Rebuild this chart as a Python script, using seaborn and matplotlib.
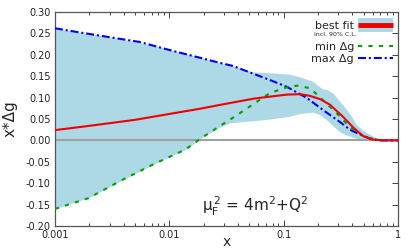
import matplotlib
matplotlib.use("Agg")
import matplotlib.pyplot as plt
import seaborn as sns
from matplotlib.lines import Line2D
from matplotlib.legend_handler import HandlerTuple
from matplotlib.ticker import FixedLocator, FuncFormatter, MultipleLocator

# best fit
fit_x = [0.001, 0.002, 0.005, 0.0112, 0.0186, 0.0278, 0.056, 0.107, 0.14, 0.17,
         0.21, 0.255, 0.331, 0.41, 0.496, 0.6, 0.75, 1.0]
fit_y = [0.024, 0.034, 0.048, 0.064, 0.074, 0.083, 0.098, 0.107, 0.108, 0.104,
         0.096, 0.083, 0.055, 0.029, 0.010, 0.002, 0.0, 0.0]

# min delta g
min_x = [0.001, 0.00196, 0.00383, 0.0075, 0.0137, 0.0197, 0.039, 0.076, 0.107,
         0.131, 0.17, 0.221, 0.29, 0.38, 0.5, 0.65, 1.0]
min_y = [-0.160, -0.135, -0.093, -0.054, -0.022, 0.008, 0.059, 0.111, 0.124,
         0.128, 0.122, 0.094, 0.064, 0.031, 0.010, 0.001, 0.0]

# max delta g
max_x = [0.001, 0.0015, 0.0055, 0.0101, 0.0186, 0.0278, 0.036, 0.054, 0.076,
         0.107, 0.139, 0.16, 0.221, 0.311, 0.38, 0.44, 0.57, 0.7, 1.0]
max_y = [0.262, 0.254, 0.230, 0.211, 0.193, 0.181, 0.174, 0.156, 0.141,
         0.125, 0.108, 0.099, 0.071, 0.043, 0.025, 0.017, 0.004, 0.0, 0.0]

# 90% C.L. band
band_x = [0.001, 0.002, 0.004, 0.0075, 0.0137, 0.0197, 0.028, 0.034, 0.045, 0.054,
          0.065, 0.076, 0.11, 0.14, 0.18, 0.2, 0.22, 0.24, 0.27, 0.31, 0.35, 0.38,
          0.43, 0.49, 0.54, 0.66, 0.8, 1.0]
band_lo = [-0.160, -0.133, -0.091, -0.054, -0.022, 0.008, 0.032, 0.041, 0.044, 0.046,
           0.048, 0.050, 0.056, 0.063, 0.066, 0.062, 0.055, 0.047, 0.034, 0.020, 0.013,
           0.010, 0.005, 0.002, 0.0, 0.0, 0.0, 0.0]
band_hi = [0.262, 0.249, 0.236, 0.221, 0.203, 0.192, 0.181, 0.176, 0.166, 0.160,
           0.159, 0.158, 0.155, 0.148, 0.138, 0.128, 0.120, 0.119, 0.110, 0.091, 0.074,
           0.062, 0.038, 0.024, 0.017, 0.005, 0.0, 0.0]

x_ticks = [0.001, 0.01, 0.1, 1]

sns.set_style("ticks")
plt.rcParams["font.family"] = ["DejaVu Sans"]
plt.rcParams["axes.unicode_minus"] = False

fig = plt.figure(figsize=(4.15, 2.49), dpi=100)
ax = fig.add_axes([0.1325, 0.0924, 0.8265, 0.8594])
ax.set_xscale("log")

ax.fill_between(band_x, band_lo, band_hi, color="#add8e6", lw=0, zorder=1)
ax.axhline(0, color="#a0a0a0", lw=1.5, zorder=2)

sns.lineplot(x=max_x, y=max_y, ax=ax, color="#0000ee", linewidth=1.5,
             linestyle=(0, (3.8, 1.4, 1.0, 1.4)), legend=False, zorder=3)
sns.lineplot(x=min_x, y=min_y, ax=ax, color="#00a000", linewidth=1.5,
             linestyle=(0, (2, 3)), legend=False, zorder=3)
sns.lineplot(x=fit_x, y=fit_y, ax=ax, color="#ee0000", linewidth=1.5,
             legend=False, zorder=4)

ax.set_xlim(0.001, 1)
ax.set_ylim(-0.2, 0.3)
ax.xaxis.set_major_locator(FixedLocator(x_ticks))
ax.xaxis.set_major_formatter(FuncFormatter(lambda v, p: f"{v:g}"))
ax.yaxis.set_major_locator(MultipleLocator(0.05))
ax.yaxis.set_major_formatter(FuncFormatter(lambda v, p: f"{v:.2f}"))
ax.tick_params(which="both", direction="in", top=True, right=True,
               labelsize=7, colors="#222222", width=0.6)
ax.tick_params(which="major", length=4, pad=3)
ax.tick_params(which="minor", length=2)
for s in ax.spines.values():
    s.set_color("#555555")
    s.set_linewidth(0.9)

ax.set_xlabel("x", fontsize=10)
ax.xaxis.set_label_coords(0.5, -0.04)
ax.set_ylabel("x*Δg", fontsize=11, labelpad=6)

ax.text(0.583, 0.093, r"$\mathregular{\mu_F^{\,2}}$ = $\mathregular{4m^2{+}Q^2}$",
        transform=ax.transAxes, ha="center", va="center", fontsize=11)

# legends
fit_handle = (Line2D([], [], color="#add8e6", lw=10, solid_capstyle="butt"),
              Line2D([], [], color="#ee0000", lw=3.5, solid_capstyle="butt"))
leg1 = ax.legend([fit_handle], ["best fit"], handler_map={tuple: HandlerTuple(ndivide=1, pad=0)},
                 loc="center right", bbox_to_anchor=(0.985, 0.935), frameon=False,
                 fontsize=8, markerfirst=False, handlelength=3.15,
                 handletextpad=0.35, borderpad=0, borderaxespad=0)
ax.add_artist(leg1)
ax.text(0.880, 0.893, "incl. 90% C.L.", transform=ax.transAxes, ha="right",
        va="center", fontsize=4.5)
lines = [Line2D([], [], color="#00a000", lw=1.5, linestyle=(0, (2, 3))),
         Line2D([], [], color="#0000ee", lw=1.5, linestyle=(0, (3.8, 1.4, 1.0, 1.4)))]
ax.legend(lines, ["min Δg", "max Δg"], loc="upper right", bbox_to_anchor=(0.985, 0.86),
          frameon=False, fontsize=8, markerfirst=False, handlelength=3.15,
          handletextpad=0.35, borderpad=0, borderaxespad=0, labelspacing=0.15)

fig.savefig("out.png", dpi=100)
